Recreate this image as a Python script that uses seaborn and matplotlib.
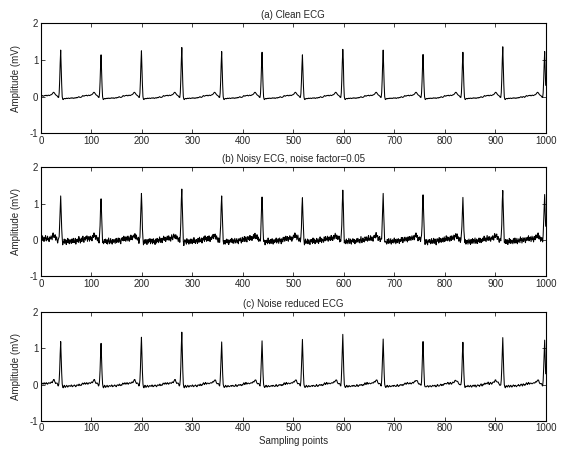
import numpy as np
import pandas as pd
import matplotlib
matplotlib.use("Agg")
import matplotlib.pyplot as plt
import seaborn as sns

# ---------------- data ----------------
titles = ["(a) Clean ECG", "(b) Noisy ECG, noise factor=0.05", "(c) Noise reduced ECG"]
x_ticks = [0, 100, 200, 300, 400, 500, 600, 700, 800, 900, 1000]
y_ticks = [-1, 0, 1, 2]

# R-peak sample positions
r_pos = [39, 119, 199, 279, 358, 438, 518, 598, 678, 757, 836, 915, 998]
# R-peak amplitudes (mV) per panel
peaks_a = [1.27, 1.14, 1.25, 1.34, 1.23, 1.21, 1.14, 1.29, 1.27, 1.15, 1.21, 1.36, 1.23]
peaks_b = [1.21, 1.13, 1.28, 1.40, 1.21, 1.18, 1.16, 1.37, 1.28, 1.24, 1.17, 1.36, 1.25]
peaks_c = [1.19, 1.14, 1.31, 1.45, 1.18, 1.21, 1.25, 1.39, 1.26, 1.19, 1.17, 1.30, 1.23]

# beat baseline, offsets -40..-1 before the R peak
pre_r = [-0.02, -0.01, 0.00, 0.02, 0.03, 0.02, 0.01, 0.02, 0.03, 0.03,
         0.03, 0.04, 0.03, 0.02, 0.03, 0.04, 0.04, 0.03, 0.03, 0.04,
         0.05, 0.05, 0.06, 0.07, 0.09, 0.11, 0.12, 0.11, 0.09, 0.07,
         0.05, 0.04, 0.03, 0.02, 0.00, -0.02, -0.02, 0.00, 0.00, 0.00]
# beat baseline, offsets 0..39 after the R peak
post_r = [0.00, 0.00, 0.00, 0.00, -0.07, -0.08, -0.06, -0.05, -0.05, -0.06,
          -0.05, -0.05, -0.04, -0.05, -0.05, -0.04, -0.04, -0.05, -0.05, -0.04,
          -0.04, -0.03, -0.04, -0.04, -0.03, -0.04, -0.05, -0.04, -0.03, -0.03,
          -0.04, -0.03, -0.02, -0.03, -0.02, -0.01, 0.00, -0.01, -0.02, -0.02]
# QRS spike shape, offsets -3..3, as fraction of the R amplitude
spike = [0.08, 0.35, 0.72, 1.00, 0.62, 0.25, 0.00]

# notch right after the beat at 598 (panels a and b)
notch_pos = 599
notch_val = 1.00

# estimated noise fluctuation seen in panel (b), repeated along the trace
noise_b = [0.06, -0.03, 0.08, 0.02, -0.05, 0.04, -0.07, 0.01, 0.09, -0.02,
           -0.06, 0.03, 0.07, -0.04, 0.00, -0.08, 0.05, 0.02, -0.03, 0.06,
           -0.01, -0.07, 0.04, 0.08, -0.05, 0.01, -0.02, 0.07, -0.06, 0.03,
           0.05, -0.04, -0.09, 0.02, 0.06, -0.01, 0.04, -0.06, 0.08, -0.03,
           0.00, 0.05, -0.07, 0.03, -0.02, 0.07, -0.05, 0.01, 0.06, -0.08,
           0.02, -0.03, 0.09, -0.04, 0.05, -0.06, 0.01, 0.04, -0.02, -0.07,
           0.06, 0.03, -0.05, 0.08, -0.01, -0.04, 0.02, 0.07, -0.08, 0.03,
           -0.03, 0.05, 0.00, -0.06, 0.09, -0.02, 0.04, -0.07, 0.01, 0.06,
           -0.05, 0.02, 0.07, -0.03, -0.08, 0.04, 0.01, -0.04, 0.06, -0.01,
           0.08, -0.06, 0.03, -0.02, 0.05, -0.07, 0.00, 0.06, -0.04, 0.02,
           -0.09, 0.05, 0.03, -0.05, 0.07, -0.02, 0.04, -0.06, 0.01, 0.08,
           -0.03, -0.05, 0.06, 0.02, -0.07, 0.04, -0.01, 0.07, -0.04, 0.03,
           0.05, -0.08, 0.02, -0.03, 0.06]
# small residual wiggle seen in panel (c)
resid_c = [0.01, 0.02, 0.00, -0.01, 0.01, 0.03, 0.01, -0.02, -0.01, 0.01,
           0.02, 0.00, -0.02, -0.01, 0.01, 0.02, 0.01, -0.01, 0.00, 0.02,
           0.01, -0.02, -0.01, 0.00, 0.02, 0.03, 0.00, -0.01, -0.02, 0.00,
           0.01, 0.02, 0.00, -0.02, 0.01, 0.02, -0.01, 0.00, 0.01, -0.01]

N = 1000
samples = np.arange(1, N + 1)


def build(peaks, extra=None, notch=False):
    pad = 60
    sig = np.zeros(N + 2 * pad + 1)
    base = np.array(pre_r + post_r)
    for r, p in zip(r_pos, peaks):
        seg = base.copy()
        seg[40 - 3:40 + 4] += np.array(spike) * p
        i0 = r - 40 + pad
        sig[i0:i0 + 80] = seg
    y = sig[pad + 1:pad + N + 1].copy()
    if extra is not None:
        ex = np.resize(np.array(extra), N)
        y = y + ex
        for r, p in zip(r_pos, peaks):
            if 1 <= r <= N:
                y[r - 1] = p
    if notch:
        y[notch_pos - 1] = notch_val
    return y


sig_a = build(peaks_a, notch=True)
sig_b = build(peaks_b, extra=noise_b, notch=True)
sig_c = build(peaks_c, extra=resid_c)

df = pd.DataFrame({"sample": np.tile(samples, 3),
                   "amp": np.concatenate([sig_a, sig_b, sig_c]),
                   "panel": np.repeat([0, 1, 2], N)})

# ---------------- plotting ----------------
sns.set_style("ticks")
plt.rcParams['font.family'] = ['Liberation Sans', 'DejaVu Sans']
plt.rcParams['axes.linewidth'] = 0.8

fig = plt.figure(figsize=(5.68, 4.51), dpi=100)
fig.patch.set_facecolor("white")
boxes = [(0.0722, 0.7044, 0.8885, 0.2439),
         (0.0722, 0.3880, 0.8885, 0.2410),
         (0.0722, 0.0672, 0.8885, 0.2403)]
fs = 7
for k in range(3):
    ax = fig.add_axes(boxes[k])
    sns.lineplot(data=df[df.panel == k], x="sample", y="amp", ax=ax,
                 color="black", linewidth=0.75, estimator=None, legend=False)
    ax.set_xlim(0, 1000)
    ax.set_ylim(-1, 2)
    ax.set_xticks(x_ticks)
    ax.set_yticks(y_ticks)
    ax.set_xticklabels([str(v) for v in x_ticks], fontsize=fs)
    ax.set_yticklabels([str(v) for v in y_ticks], fontsize=fs)
    ax.tick_params(direction="in", top=True, right=True, length=3, width=0.6, pad=2)
    for s in ax.spines.values():
        s.set_visible(True)
        s.set_color("black")
        s.set_linewidth(0.8)
    ax.set_title(titles[k], fontsize=fs, pad=4)
    ax.set_ylabel("Amplitude (mV)", fontsize=fs, labelpad=6)
    if k == 2:
        ax.set_xlabel("Sampling points", fontsize=fs, labelpad=2)
    else:
        ax.set_xlabel("")
    ax.set_facecolor("white")

fig.savefig("out.png", dpi=100, facecolor="white")
